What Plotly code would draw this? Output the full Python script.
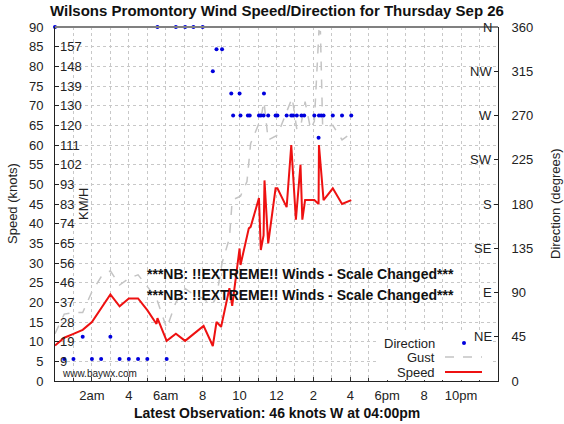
import plotly.graph_objects as go

# hours since midnight (Thursday Sep 26)
spd_hours = [0, 0.5, 1, 1.5, 2, 3, 3.5, 4, 4.5, 5, 5.5, 5.55, 6.05, 6.55, 7.05, 8.05, 8.55, 8.75,
             9.0, 9.12, 9.45, 9.6, 10.0, 10.05, 10.5, 10.6, 11.05, 11.15, 11.3, 11.35, 11.55, 11.95,
             12.05, 12.55, 12.8, 13.05, 13.3, 13.4, 13.55, 14.05, 14.28, 14.3, 14.55, 15.05, 15.55, 16.05]
speed_kt = [9, 11, 12, 13, 15, 22, 19, 21, 21, 18, 14.5, 16, 10.2, 12, 10.2, 14, 8.9, 15,
            13.8, 16.5, 23.6, 19.1, 33.7, 29.5, 38.8, 39.2, 46.5, 33.3, 37, 51, 35, 49,
            49, 44.2, 60, 41, 55, 41, 46, 46, 45, 60, 46, 49, 45, 46]

gust_hours = [0, 0.5, 1, 1.5, 2, 2.5, 3, 3.5, 4, 4.5, 5, 5.5, 6.05, 6.55, 7.05, 7.5, 8.0, 8.5, 8.75,
              9.05, 9.45, 9.6, 10.05, 10.4, 10.6, 11.05, 11.2, 11.32, 11.55, 12.05, 12.85, 13.1, 13.3,
              13.55, 13.85, 14.05, 14.3, 14.38, 14.5, 15.05, 15.55, 16.05]
gust_kt = [12, 17, 17.4, 17.4, 22.7, 26.5, 28, 24.4, 26.1, 27, 24, 21, 13.4, 20, 23.5, 22, 21, 19.3, 21.4,
           30, 36.3, 46, 47, 50.7, 60.4, 65.5, 68, 71, 61.3, 62.5, 72, 64, 64.5,
           71, 64, 66, 89, 88.8, 64.7, 65, 61.3, 63]

dir_hours = [0, 0.5, 1, 1.5, 2, 2.5, 3, 3.5, 4, 4.5, 5, 5.55, 6.05, 6.55, 7.05, 7.5, 8.0, 8.55, 8.75,
             9.05, 9.55, 9.65, 10.0, 10.05, 10.45, 10.55, 11.05, 11.15, 11.3, 11.32, 11.55, 11.95,
             12.05, 12.55, 12.8, 12.9, 13.1, 13.35, 13.5, 14.05, 14.28, 14.3, 14.42, 14.55, 15.05,
             15.55, 16.05]
dir_deg = [360, 22.5, 22.5, 45, 22.5, 22.5, 45, 22.5, 22.5, 22.5, 22.5, 360, 22.5, 360, 360, 360, 360,
           315, 337.5, 337.5, 292.5, 270, 292.5, 270, 270, 270, 270, 270, 270, 292.5, 270, 270,
           270, 270, 270, 270, 270, 270, 270, 270, 247.5, 270, 270, 270, 270, 270, 270]

x_tickvals = [2, 4, 6, 8, 10, 12, 14, 16, 18, 20, 22]
x_ticktext = ["2am", "4", "6am", "8", "10", "12", "2", "4", "6pm", "8", "10pm"]
kmh_knots = [5, 10, 15, 20, 25, 30, 35, 40, 45, 50, 55, 60, 65, 70, 75, 80, 85]
kmh_labels = ["9", "19", "28", "37", "46", "56", "65", "74", "83", "93", "102", "111",
              "120", "130", "139", "148", "157"]
compass_deg = [45, 90, 135, 180, 225, 270, 315, 360]
compass_labels = ["NE", "E", "SE", "S", "SW", "W", "NW", "N"]

FONT = "Liberation Sans, Arial, sans-serif"
GRID = "#c8c8c8"

fig = go.Figure()
fig.add_trace(go.Scatter(x=gust_hours, y=gust_kt, mode="lines", name="Gust",
                         line=dict(color="#c4c4c4", width=1.5, dash="dash")))
fig.add_trace(go.Scatter(x=spd_hours, y=speed_kt, mode="lines", name="Speed",
                         line=dict(color="#ee1111", width=2)))
fig.add_trace(go.Scatter(x=dir_hours, y=dir_deg, yaxis="y2", mode="markers", name="Direction",
                         marker=dict(color="#0000dd", size=4), cliponaxis=False))

fig.update_layout(
    width=564,
    height=424,
    margin=dict(l=55, r=66, t=27, b=43),
    paper_bgcolor="white",
    plot_bgcolor="white",
    showlegend=False,
    font=dict(family=FONT, size=13, color="#222"),
    xaxis=dict(range=[0, 24], tickvals=x_tickvals, ticktext=x_ticktext, ticks="inside", ticklen=4,
               tickcolor="#333", showline=True, linecolor="#222", linewidth=1,
               showgrid=True, gridcolor=GRID, griddash="dot", zeroline=False,
               minor=dict(dtick=1, tick0=0, showgrid=True, gridcolor=GRID, griddash="dot",
                          ticks="inside", ticklen=3, tickcolor="#333"),
               ticklabelstandoff=2),
    yaxis=dict(range=[0, 90], dtick=5, ticks="inside", ticklen=4, tickcolor="#222",
               showline=True, linecolor="#222", linewidth=1,
               showgrid=True, gridcolor=GRID, griddash="dot", zeroline=False,
               ticklabelstandoff=8),
    yaxis2=dict(range=[0, 360], tickvals=[0, 45, 90, 135, 180, 225, 270, 315, 360],
                overlaying="y", side="right", ticks="inside", ticklen=4, tickcolor="#222",
                showline=True, linecolor="#222", linewidth=1, showgrid=False, zeroline=False,
                ticklabelstandoff=10),
)


def px_x(px):
    return (px - 55) / 443


def px_y(py):
    return (381 - py) / 354


shapes = [
    dict(type="line", xref="paper", yref="paper", x0=0, x1=1, y0=1, y1=1,
         line=dict(color="#808080", width=2)),
    # legend box
    dict(type="rect", xref="paper", yref="paper", x0=px_x(378), x1=px_x(493), y0=px_y(380),
         y1=px_y(333), fillcolor="white", line=dict(width=0)),
    dict(type="circle", xref="paper", yref="paper", x0=px_x(462), x1=px_x(466), y0=px_y(345),
         y1=px_y(341), fillcolor="#0000dd", line=dict(width=0)),
    dict(type="line", xref="paper", yref="paper", x0=px_x(445), x1=px_x(482), y0=px_y(357),
         y1=px_y(357), line=dict(color="#c4c4c4", width=1.5, dash="dash")),
    dict(type="line", xref="paper", yref="paper", x0=px_x(445), x1=px_x(482), y0=px_y(372),
         y1=px_y(372), line=dict(color="#ee1111", width=2)),
]
fig.update_layout(shapes=shapes)


def label(px, py, text, size=13, anchor="center", angle=0, color="#222"):
    return dict(x=px_x(px), xref="paper", y=px_y(py), yref="paper", text=text, showarrow=False,
                xanchor=anchor, yanchor="middle", textangle=angle, font=dict(size=size, color=color))


ann = []
for k, lab in zip(kmh_knots, kmh_labels):
    ann.append(dict(x=0, xref="paper", y=k, yref="y", text=lab, showarrow=False,
                    xanchor="left", yanchor="middle", xshift=3, font=dict(size=13)))
for d, lab in zip(compass_deg, compass_labels):
    ann.append(dict(x=1, xref="paper", y=d, yref="y2", text=lab, showarrow=False,
                    xanchor="right", yanchor="middle", xshift=-4, font=dict(size=13)))
nb = "<b>***NB: !!EXTREME!! Winds - Scale Changed***</b>"
ann += [
    label(277, 11, "<b>Wilsons Promontory Wind Speed/Direction for Thursday Sep 26</b>", size=15, color="#111"),
    label(277, 413, "<b>Latest Observation: 46 knots W at 04:00pm</b>", size=14, color="#111"),
    label(12, 204, "Speed (knots)", angle=-90),
    label(555, 204, "Direction (degrees)", angle=-90),
    label(83, 204, "KM/H", angle=-90),
    label(300, 274, nb, size=14, color="#111"),
    label(300, 295, nb, size=14, color="#111"),
    label(60, 373, "www.baywx.com", size=10, anchor="left"),
    label(437, 343, "Direction", anchor="right"),
    label(437, 357, "Gust", anchor="right"),
    label(437, 372, "Speed", anchor="right"),
]
fig.update_layout(annotations=ann)

# the page body has a default 8px margin; drop it so the figure sits at the window origin
fig.write_html("out.html", config={"displayModeBar": False},
               post_script="document.body.style.margin='0';")
